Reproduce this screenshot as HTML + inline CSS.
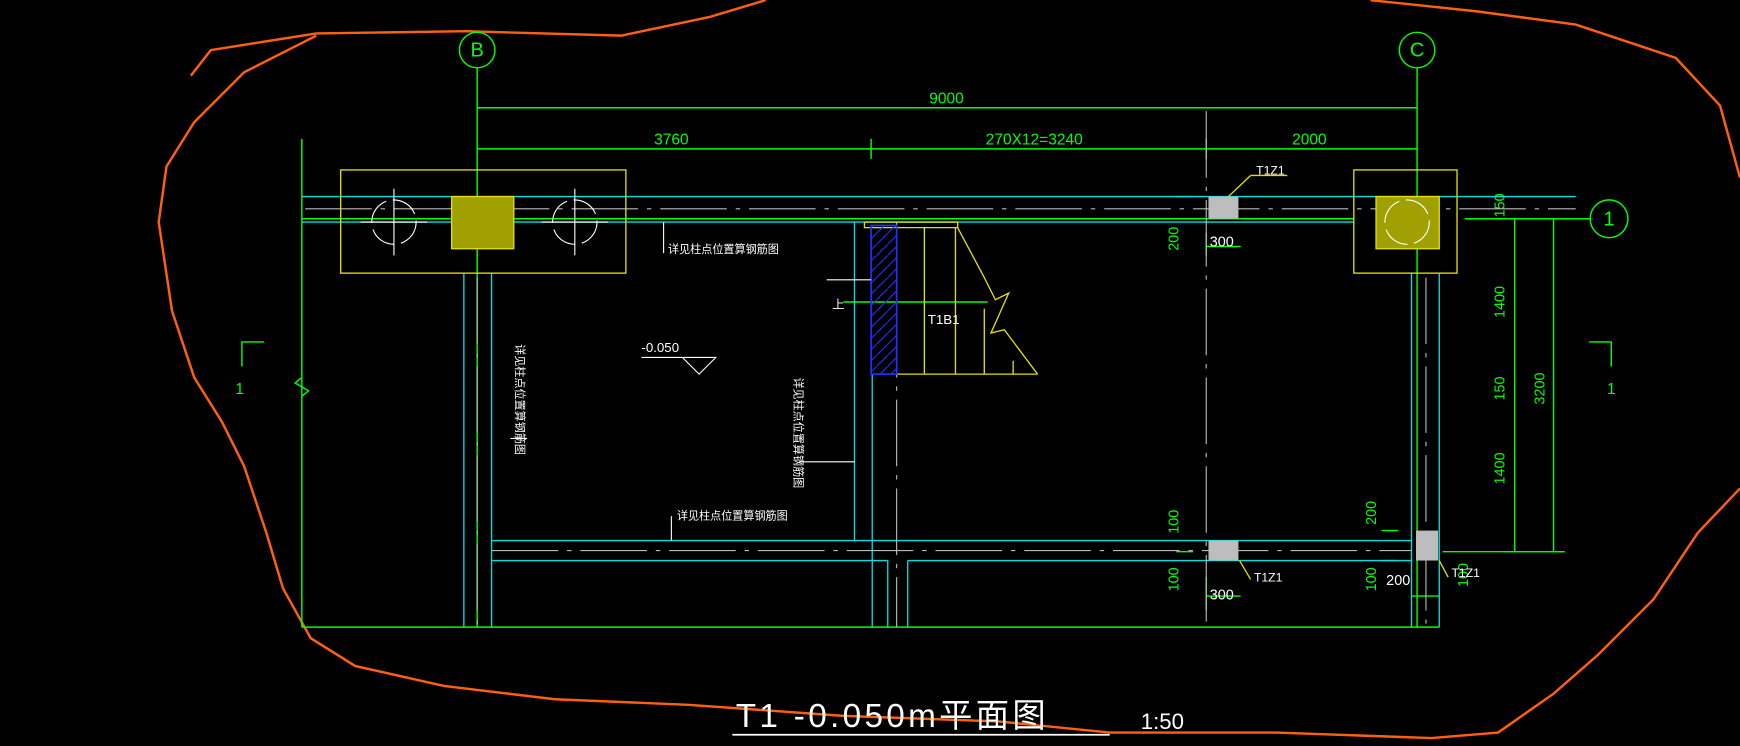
<!DOCTYPE html>
<html><head><meta charset="utf-8"><style>
html,body{margin:0;padding:0;background:#000;}
svg{display:block}
text{font-family:"Liberation Sans","Noto Sans CJK SC",sans-serif;}
</style></head><body>
<svg width="1740" height="746" viewBox="0 0 1568 672" xmlns="http://www.w3.org/2000/svg">
<rect width="1568" height="672" fill="#000"/>
<!-- orange cloud -->
<path d="M172,68 L190,45 L285,30 L420,28 L560,32 L640,15 L690,0 M1235,0 L1330,10 L1420,22 L1510,52 L1550,95 L1568,160 M1568,440 L1530,480 L1490,540 L1440,590 L1400,625 L1350,660 L1290,665 L1150,660 L1000,660 L900,650 L760,645 L620,635 L500,630 L400,618 L320,600 L280,575 L255,530 L240,480 L220,420 L200,380 L175,340 L155,280 L143,200 L150,150 L175,110 L220,65 L285,32" fill="none" stroke="#ff6010" stroke-width="2.2"/>
<!-- grid circles -->
<g stroke="#00ff00" fill="none" stroke-width="1.3">
<circle cx="430" cy="45" r="16"/><circle cx="1277" cy="45" r="16"/><circle cx="1450" cy="197" r="17"/>
<line x1="430" y1="61" x2="430" y2="565"/><line x1="1277" y1="61" x2="1277" y2="565"/>
<line x1="1320" y1="197" x2="1433" y2="197"/>
<line x1="430" y1="97" x2="1277" y2="97"/>
<line x1="430" y1="134" x2="1277" y2="134"/>
<line x1="785" y1="125" x2="785" y2="143"/><line x1="1087" y1="125" x2="1087" y2="143"/>
<line x1="272" y1="125" x2="272" y2="565"/>
<polyline points="272,340 266,345 278,352 272,357"/>
<line x1="272" y1="565" x2="1297" y2="565"/>
<line x1="272" y1="197" x2="1220" y2="197"/>
<line x1="1400" y1="197" x2="1400" y2="497"/><line x1="1365" y1="197" x2="1365" y2="497"/>
<line x1="1355" y1="197" x2="1410" y2="197"/><line x1="1355" y1="497" x2="1410" y2="497"/>
<line x1="1300" y1="497" x2="1410" y2="497"/>
<polyline points="218,330 218,308 238,308"/><polyline points="1452,330 1452,308 1432,308"/>
<line x1="1087" y1="210" x2="1087" y2="230"/><line x1="1087" y1="520" x2="1087" y2="550"/>
<line x1="1087" y1="222" x2="1118" y2="222"/><line x1="1087" y1="537" x2="1118" y2="537"/>
<line x1="1060" y1="177" x2="1075" y2="177"/><line x1="1060" y1="497" x2="1075" y2="497"/>
<line x1="1245" y1="478" x2="1260" y2="478"/><line x1="1245" y1="505" x2="1260" y2="505"/>
<line x1="1272" y1="537" x2="1297" y2="537"/>
<line x1="760" y1="272" x2="890" y2="272"/>
</g>
<g fill="#00ff00" font-size="14" text-anchor="middle">
<text x="430" y="51" font-size="18">B</text><text x="1277" y="51" font-size="18">C</text><text x="1450" y="203" font-size="18">1</text>
<text x="853" y="93">9000</text><text x="605" y="130">3760</text><text x="932" y="130">270X12=3240</text><text x="1180" y="130">2000</text>
<text x="216" y="355">1</text><text x="1452" y="355">1</text>
</g>
<g fill="#00ff00" font-size="13" text-anchor="middle">
<text transform="translate(1356,185) rotate(-90)">150</text>
<text transform="translate(1356,272) rotate(-90)">1400</text>
<text transform="translate(1356,350) rotate(-90)">150</text>
<text transform="translate(1356,422) rotate(-90)">1400</text>
<text transform="translate(1392,350) rotate(-90)">3200</text>
<text transform="translate(1062,215) rotate(-90)">200</text>
<text transform="translate(1062,470) rotate(-90)">100</text>
<text transform="translate(1062,522) rotate(-90)">100</text>
<text transform="translate(1240,462) rotate(-90)">200</text>
<text transform="translate(1240,522) rotate(-90)">100</text>
<text transform="translate(1323,518) rotate(-90)">100</text>
<text x="1101" y="222" fill="#fff">300</text><text x="1101" y="540" fill="#fff">300</text><text x="1260" y="527" fill="#fff">200</text>
</g>
<!-- cyan beams -->
<g stroke="#00e0e0" fill="none" stroke-width="1.2">
<line x1="272" y1="177" x2="1420" y2="177"/><line x1="272" y1="200" x2="1220" y2="200"/>
<line x1="418" y1="246" x2="418" y2="565"/><line x1="443" y1="246" x2="443" y2="565"/>
<line x1="1272" y1="246" x2="1272" y2="565"/><line x1="1297" y1="246" x2="1297" y2="565"/>
<line x1="443" y1="487" x2="1272" y2="487"/><line x1="443" y1="505" x2="800" y2="505"/>
<line x1="818" y1="505" x2="1272" y2="505"/>
<line x1="800" y1="505" x2="800" y2="565"/><line x1="818" y1="505" x2="818" y2="565"/>
<line x1="770" y1="200" x2="770" y2="487"/><line x1="786" y1="337" x2="786" y2="565"/>
</g>
<!-- grey center lines -->
<g stroke="#bbb" stroke-width="1" stroke-dasharray="60,8,4,8">
<line x1="275" y1="188" x2="1420" y2="188"/><line x1="430" y1="250" x2="430" y2="565"/>
<line x1="1087" y1="100" x2="1087" y2="565"/><line x1="808" y1="200" x2="808" y2="565"/>
<line x1="443" y1="496" x2="1272" y2="496"/><line x1="1285" y1="250" x2="1285" y2="565"/>
</g>
<!-- yellow boxes -->
<g stroke="#e0e000" fill="none" stroke-width="1.2">
<rect x="307" y="153" width="257" height="93"/><rect x="1220" y="153" width="93" height="93"/>
<rect x="407" y="177" width="56" height="47" fill="#a0a000"/><rect x="1240" y="177" width="57" height="47" fill="#a0a000"/>
<polyline points="779,200 779,205 863,205 863,200 779,200"/>
<line x1="808" y1="337" x2="935" y2="337"/>
<line x1="833" y1="205" x2="833" y2="337"/><line x1="861" y1="205" x2="861" y2="337"/>
<line x1="887" y1="278" x2="887" y2="337"/><line x1="913" y1="325" x2="913" y2="337"/>
<polyline points="863,205 887,250 897,270 909,264 893,300 905,297 935,337"/>
<line x1="1107" y1="177" x2="1127" y2="158"/><line x1="1127" y1="158" x2="1160" y2="158"/>
<line x1="1117" y1="505" x2="1127" y2="522"/><line x1="1297" y1="505" x2="1305" y2="520"/>
</g>
<rect x="1089" y="177" width="27" height="20" fill="#bdbdbd"/>
<rect x="1089" y="487" width="27" height="18" fill="#bdbdbd"/>
<rect x="1276" y="478" width="20" height="27" fill="#bdbdbd"/>
<!-- hatched -->
<defs><pattern id="h" width="10" height="10" patternUnits="userSpaceOnUse"><line x1="0" y1="10" x2="10" y2="0" stroke="#2030ff" stroke-width="1"/></pattern></defs>
<rect x="785" y="203" width="23" height="134" fill="url(#h)" stroke="#2030ff" stroke-width="1.5"/>
<!-- column symbols -->
<g stroke="#fff" fill="none" stroke-width="1">
<circle cx="355" cy="200" r="20" stroke-dasharray="25,6"/><line x1="325" y1="200" x2="385" y2="200"/><line x1="355" y1="170" x2="355" y2="230"/>
<circle cx="518" cy="200" r="20" stroke-dasharray="25,6"/><line x1="488" y1="200" x2="548" y2="200"/><line x1="518" y1="170" x2="518" y2="230"/>
<circle cx="1268" cy="200" r="20" stroke-dasharray="25,6"/>
<polyline points="578,322 645,322 630,337 615,322"/>
<line x1="605" y1="465" x2="605" y2="487"/><line x1="460" y1="395" x2="475" y2="395"/>
<line x1="720" y1="416" x2="770" y2="416"/><line x1="745" y1="252" x2="785" y2="252"/>
<line x1="598" y1="200" x2="598" y2="228"/>
</g>
<g fill="#fff" font-size="11">
<text x="1132" y="157">T1Z1</text><text x="1130" y="524">T1Z1</text><text x="1308" y="520">T1Z1</text>
<text x="836" y="292" font-size="12">T1B1</text>
<text x="578" y="317" font-size="12">-0.050</text>
<text x="602" y="228" font-size="10">详见柱点位置算钢筋图</text>
<text x="610" y="468" font-size="10">详见柱点位置算钢筋图</text>
<text transform="translate(465,310) rotate(90)" font-size="10">详见柱点位置算钢筋图</text>
<text transform="translate(716,340) rotate(90)" font-size="10">详见柱点位置算钢筋图</text>
<text x="750" y="278" font-size="11">上</text>
</g>
<!-- title -->
<text x="663" y="655" fill="#fff" font-size="30" font-family="Liberation Sans,Noto Sans CJK SC,sans-serif" letter-spacing="3">T1 -0.050m平面图</text>
<line x1="660" y1="662" x2="1000" y2="662" stroke="#fff" stroke-width="1.5"/>
<text x="1028" y="657" fill="#fff" font-size="20">1:50</text>
</svg>
</body></html>
